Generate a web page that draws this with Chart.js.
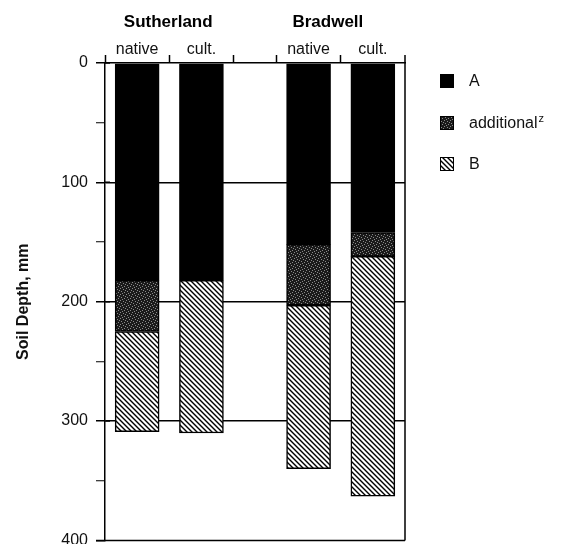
<!DOCTYPE html>
<html>
<head>
<meta charset="utf-8">
<script src="https://cdn.jsdelivr.net/npm/chart.js@4"></script>
<style>
  * { margin: 0; padding: 0; box-sizing: border-box; }
  html, body { background: #fff; overflow: hidden; }
  /* a bit taller than the window: the 400 label is cut at the bottom edge */
  .wrap { width: 572px; height: 558px; }
</style>
</head>
<body>
<div class="wrap"><canvas id="chart"></canvas></div>
<script>
  // Soil horizon thickness (mm), one entry per bar
  const sites = ['Sutherland', 'Bradwell'];
  const treatments = ['native', 'cult.', 'native', 'cult.'];
  const horizonA = [182, 182, 152, 142];
  const additional = [43, 0, 51, 20];
  const horizonB = [84, 128, 137, 201];
  const depthTicks = [0, 100, 200, 300, 400];

  // 14 narrow slots on the x axis so the gap between sites is narrower
  const SLOTS = 14;
  const barSlots = [1, 4, 9, 12];
  const boundaries = [0, 3, 6, 8, 11];
  const siteLabelSlot = [2.45, 9.9];

  const labels = Array(SLOTS).fill('');
  barSlots.forEach((s, i) => labels[s] = treatments[i]);
  function spread(values) {
    const arr = Array(SLOTS).fill(null);
    barSlots.forEach((s, i) => arr[s] = values[i]);
    return arr;
  }

  // fill patterns
  function stipple() {
    const c = document.createElement('canvas');
    c.width = 6; c.height = 6;
    const g = c.getContext('2d');
    g.fillStyle = '#1a1a1a';
    g.fillRect(0, 0, 6, 6);
    g.fillStyle = '#8a8a8a';
    [[0, 0], [3, 1], [1, 3], [4, 4], [5, 2], [2, 5]].forEach(p => g.fillRect(p[0], p[1], 1, 1));
    return g.createPattern(c, 'repeat');
  }
  function hatch() {
    const s = 5;
    const c = document.createElement('canvas');
    c.width = s; c.height = s;
    const g = c.getContext('2d');
    g.fillStyle = '#fff';
    g.fillRect(0, 0, s, s);
    g.strokeStyle = '#000';
    g.lineWidth = 1.4;
    g.beginPath();
    g.moveTo(-1, -1); g.lineTo(s + 1, s + 1);
    g.moveTo(-1, s - 1); g.lineTo(1, s + 1);
    g.moveTo(s - 1, -1); g.lineTo(s + 1, 1);
    g.stroke();
    return g.createPattern(c, 'repeat');
  }

  const ctx = document.getElementById('chart').getContext('2d');
  const fills = ['#000', stipple(), hatch()];
  const FONT = "'Liberation Sans', Arial, sans-serif";
  Chart.defaults.font.family = FONT;
  Chart.defaults.color = '#111';

  const extras = {
    id: 'extras',
    afterDraw(chart) {
      const { ctx, chartArea: a, scales } = chart;
      ctx.save();
      ctx.strokeStyle = '#000';
      ctx.lineWidth = 1.5;
      ctx.beginPath();
      ctx.moveTo(a.right, a.top - 8); ctx.lineTo(a.right, a.bottom);
      ctx.moveTo(a.left - 9, a.bottom); ctx.lineTo(a.right, a.bottom);
      // major depth ticks cross the axis a little
      depthTicks.forEach(v => {
        const y = scales.y.getPixelForValue(v);
        ctx.moveTo(a.left, y); ctx.lineTo(a.left + 5, y);
      });
      ctx.stroke();

      // site names above the treatment labels
      ctx.fillStyle = '#000';
      ctx.font = 'bold 17px ' + FONT;
      ctx.textAlign = 'center';
      ctx.textBaseline = 'middle';
      sites.forEach((s, i) => ctx.fillText(s, scales.x.getPixelForValue(siteLabelSlot[i]), 22));

      // legend
      const names = ['A', 'additional', 'B'];
      const ys = [81, 123, 164];
      ctx.textAlign = 'left';
      names.forEach((n, i) => {
        ctx.fillStyle = fills[i];
        ctx.fillRect(440, ys[i] - 7, 14, 14);
        ctx.strokeStyle = '#000';
        ctx.lineWidth = 1;
        ctx.strokeRect(440.5, ys[i] - 6.5, 13, 13);
        ctx.fillStyle = '#111';
        ctx.font = '16px ' + FONT;
        ctx.fillText(n, 469, ys[i] + 1);
        if (n === 'additional') {
          const w = ctx.measureText(n).width;
          ctx.font = '11px ' + FONT;
          ctx.fillText('z', 469 + w + 1, ys[i] - 4);
        }
      });
      ctx.restore();
    }
  };

  const chart = new Chart(ctx, {
    type: 'bar',
    data: {
      labels: labels,
      datasets: [
        { label: 'A', data: spread(horizonA), backgroundColor: fills[0] },
        { label: 'additional', data: spread(additional), backgroundColor: fills[1] },
        { label: 'B', data: spread(horizonB), backgroundColor: fills[2] }
      ].map(d => Object.assign(d, {
        borderColor: '#000', borderWidth: 1.5, borderSkipped: false, barThickness: 44
      }))
    },
    options: {
      responsive: true,
      maintainAspectRatio: false,
      animation: false,
      layout: { padding: { top: 37, left: 14, right: 167, bottom: 4 } },
      plugins: { legend: { display: false }, tooltip: { enabled: false } },
      scales: {
        x: {
          position: 'top',
          stacked: true,
          afterFit: s => { s.height = 26; },
          border: { color: '#000', width: 1.5 },
          grid: {
            offset: true,
            drawOnChartArea: false,
            tickLength: 8,
            tickWidth: 1.5,
            tickColor: c => boundaries.includes(c.index) ? '#000' : 'rgba(0,0,0,0)'
          },
          ticks: { font: { size: 16 }, color: '#111', padding: -4, maxRotation: 0, autoSkip: false }
        },
        y: {
          stacked: true,
          reverse: true,
          min: depthTicks[0],
          max: depthTicks[depthTicks.length - 1],
          afterFit: s => { s.width = 91; },
          border: { color: '#000', width: 1.5 },
          grid: {
            color: c => (c.tick && c.tick.value % 100 === 0 && c.tick.value > 0 && c.tick.value < 400) ? '#000' : 'rgba(0,0,0,0)',
            lineWidth: 1.5,
            tickLength: 9,
            tickColor: '#000',
            tickWidth: c => (c.tick && c.tick.value % 100 === 0) ? 1.5 : 1
          },
          ticks: {
            stepSize: 50,
            font: { size: 16 },
            color: '#111',
            padding: 8,
            callback: v => depthTicks.includes(v) ? v : ''
          },
          title: {
            display: true,
            text: 'Soil Depth, mm',
            font: { size: 16, weight: 'bold' },
            color: '#111',
            padding: { top: 0, bottom: 4 }
          }
        }
      }
    },
    plugins: [extras]
  });
</script>
</body>
</html>
